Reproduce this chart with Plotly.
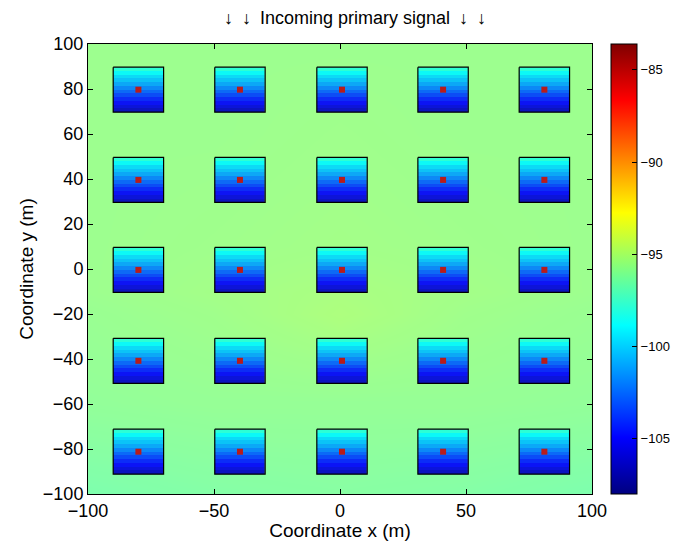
import plotly.graph_objects as go

# ---- data ----
bld_cx = [-80.0, -39.7, 0.8, 40.9, 81.1]      # building centre x (m)
bld_cy = [79.7, 39.6, -0.4, -40.8, -81.2]     # building centre y (m)
bld_half = 10.0                               # half side of building (m)
# received power inside a building, from its top edge to its bottom edge (dBm)
bld_profile = [-98.0, -99.0, -99.8, -100.4, -101.1, -101.9, -102.7, -103.5,
               -104.3, -105.0, -105.7, -106.4]
hot_value = -84.0                             # transmitter spot (dBm)

bg_x = [-100, -50, 0, 50, 100]
bg_y = [-100, -60, -20, -10, 10, 60, 100]
bg_z = [
    [-96.5, -96.3, -96.2, -96.3, -96.5],
    [-95.9, -95.8, -95.8, -95.8, -95.9],
    [-95.7, -95.5, -95.1, -95.5, -95.7],
    [-95.6, -95.4, -95.2, -95.4, -95.6],
    [-95.6, -95.5, -95.4, -95.5, -95.6],
    [-95.6, -95.6, -95.5, -95.6, -95.6],
    [-95.6, -95.6, -95.6, -95.6, -95.6],
]

cb_min, cb_max = -108.0, -83.6
cb_ticks = [-105, -100, -95, -90, -85]
x_ticks = [-100, -50, 0, 50, 100]
y_ticks = [-100, -80, -60, -40, -20, 0, 20, 40, 60, 80, 100]

jet = [[0.0, "rgb(0,0,128)"], [0.125, "rgb(0,0,255)"], [0.375, "rgb(0,255,255)"],
       [0.625, "rgb(255,255,0)"], [0.875, "rgb(255,0,0)"], [1.0, "rgb(128,0,0)"]]

def neg(t):
    return ("\u2212" + str(abs(t))) if t < 0 else str(t)

fig = go.Figure()

fig.add_trace(go.Heatmap(x=bg_x, y=bg_y, z=bg_z, coloraxis="coloraxis",
                         zsmooth="best", opacity=0.82, hoverinfo="skip"))

n = len(bld_profile)
for cy in bld_cy:
    for cx in bld_cx:
        top, bot = cy + bld_half, cy - bld_half
        step = (top - bot) / n
        yedges = [top - i * step for i in range(n + 1)]
        fig.add_trace(go.Heatmap(
            x=[cx - bld_half, cx + bld_half], y=yedges,
            z=[[v] for v in bld_profile], coloraxis="coloraxis",
            opacity=0.92, hoverinfo="skip"))

# building outlines
ox, oy = [], []
for cy in bld_cy:
    for cx in bld_cx:
        ox += [cx - bld_half, cx + bld_half, cx + bld_half, cx - bld_half, cx - bld_half, None]
        oy += [cy + bld_half, cy + bld_half, cy - bld_half, cy - bld_half, cy + bld_half, None]
fig.add_trace(go.Scatter(x=ox, y=oy, mode="lines", line=dict(color="black", width=1.2),
                         hoverinfo="skip", showlegend=False))

# transmitter spots
hx = [cx for cy in bld_cy for cx in bld_cx]
hy = [cy for cy in bld_cy for cx in bld_cx]
fig.add_trace(go.Scatter(x=hx, y=hy, mode="markers",
                         marker=dict(symbol="square", size=6, color="#b81c1c",
                                     line=dict(width=0)),
                         hoverinfo="skip", showlegend=False))

font = "Liberation Sans, Arial, Helvetica, sans-serif"
sp = "\u2002"
fig.update_layout(
    width=678, height=541,
    margin=dict(l=88, r=86, t=44, b=47, autoexpand=False),
    paper_bgcolor="white", plot_bgcolor="white",
    font=dict(family=font, size=18, color="black"),
    showlegend=False,
    title=dict(text=f"\u2193{sp}\u2193{sp}Incoming primary signal{sp}\u2193{sp}\u2193",
               x=355 / 678, xanchor="center", y=1 - 18 / 541, yanchor="middle",
               font=dict(size=18)),
    coloraxis=dict(
        colorscale=jet, cmin=cb_min, cmax=cb_max,
        colorbar=dict(x=(611 - 88) / 504, xanchor="left", y=0.5, yanchor="middle",
                      len=1.0, lenmode="fraction", thickness=26, thicknessmode="pixels",
                      outlinecolor="black", outlinewidth=1,
                      tickvals=cb_ticks, ticktext=[neg(t) for t in cb_ticks],
                      ticks="inside", ticklen=5, tickcolor="black",
                      tickfont=dict(size=13, family=font), xpad=0, ypad=0),
    ),
    xaxis=dict(range=[-100, 100], tickvals=x_ticks, ticktext=[neg(t) for t in x_ticks],
               ticks="inside", ticklen=5, tickcolor="black", showgrid=False, zeroline=False,
               showline=True, linecolor="black", linewidth=1, mirror="ticks",
               tickfont=dict(size=18),
               title=dict(text="Coordinate x (m)", standoff=0, font=dict(size=19))),
    yaxis=dict(range=[-100, 100], tickvals=y_ticks, ticktext=[neg(t) for t in y_ticks],
               ticks="inside", ticklen=5, tickcolor="black", showgrid=False, zeroline=False,
               showline=True, linecolor="black", linewidth=1, mirror="ticks",
               tickfont=dict(size=18),
               title=dict(text="Coordinate y (m)", standoff=4, font=dict(size=19))),
)

fig.write_html("out.html", config={"displayModeBar": False},
               post_script="document.body.style.margin='0';document.body.style.padding='0';")
